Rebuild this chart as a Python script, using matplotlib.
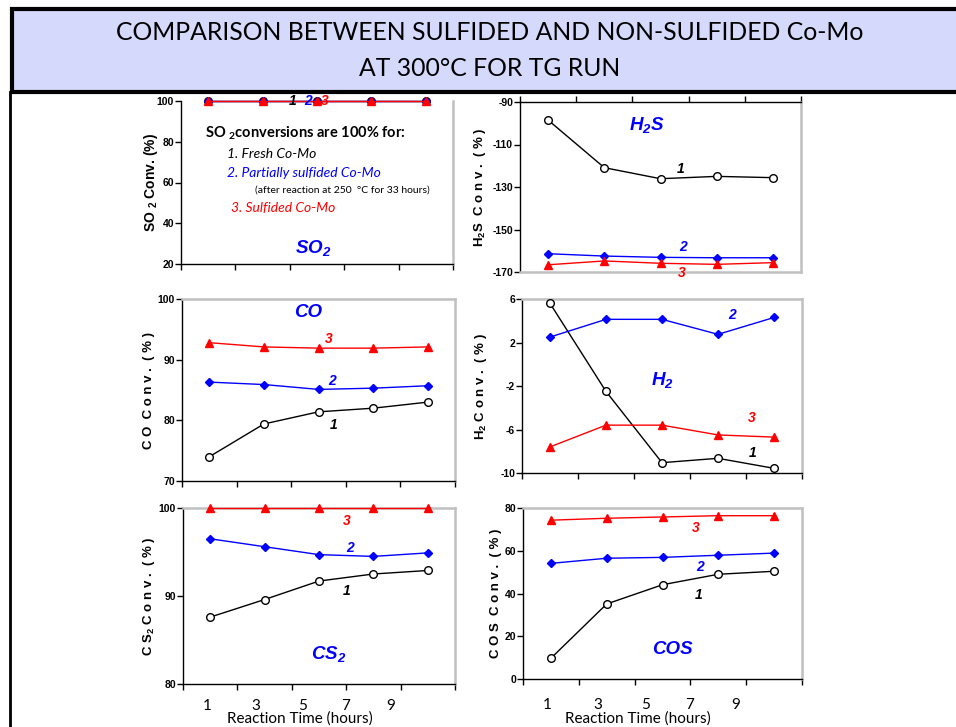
import matplotlib.pyplot as plt
from matplotlib.patches import Rectangle
from matplotlib.lines import Line2D

plt.rcParams['mathtext.default'] = 'regular'
plt.rcParams['axes.unicode_minus'] = False

# reaction-time points (evenly spaced categories on the charts)
positions = [0, 1, 2, 3, 4]
time_labels = ['1', '3', '5', '7', '9']

# 1 = fresh Co-Mo, 2 = partially sulfided, 3 = sulfided
so2_1 = [100, 100, 100, 100, 100]
so2_2 = [100, 100, 100, 100, 100]
so2_3 = [100, 100, 100, 100, 100]

h2s_1 = [-98.5, -120.9, -126.1, -125.0, -125.6]
h2s_2 = [-161.4, -162.5, -163.1, -163.3, -163.3]
h2s_3 = [-166.6, -164.8, -165.9, -166.4, -165.6]

co_1 = [74.0, 79.4, 81.4, 82.0, 83.0]
co_2 = [86.3, 85.9, 85.1, 85.3, 85.7]
co_3 = [92.8, 92.1, 91.9, 91.9, 92.1]

h2_1 = [5.6, -2.5, -9.05, -8.65, -9.57]
h2_2 = [2.5, 4.13, 4.13, 2.75, 4.3]
h2_3 = [-7.6, -5.6, -5.6, -6.5, -6.7]

cs2_1 = [87.6, 89.6, 91.7, 92.5, 92.9]
cs2_2 = [96.5, 95.6, 94.7, 94.5, 94.9]
cs2_3 = [100, 100, 100, 100, 100]

cos_1 = [9.7, 35.1, 44.1, 49.0, 50.4]
cos_2 = [54.1, 56.5, 56.9, 57.9, 58.9]
cos_3 = [74.3, 75.2, 75.8, 76.4, 76.4]

W, H = 956, 727
BLUE = '#0000ff'
RED = '#ff0000'
GREY = '#c0c0c0'
NUM_FONT = dict(family='Liberation Sans', fontweight='bold', fontstyle='italic', fontsize=10)
GAS_FONT = dict(family='Liberation Sans', fontweight='bold', fontstyle='italic', fontsize=13.5, color=BLUE)

fig = plt.figure(figsize=(W / 100, H / 100), dpi=100)

# title box
fig.patches.append(Rectangle((12 / W, 1 - 92 / H), 1.0, 83 / H, transform=fig.transFigure,
                             facecolor='#d5d9fb', edgecolor='black', lw=3, zorder=0))
fig.lines.append(Line2D([10 / W, 10 / W], [0, 1 - 92 / H], transform=fig.transFigure,
                        color='black', lw=2))
fig.text(490 / W, 1 - 33 / H, 'COMPARISON BETWEEN SULFIDED AND NON-SULFIDED Co-Mo',
         family='Lato', fontsize=17.8, ha='center', va='center')
fig.text(490 / W, 1 - 68 / H, 'AT 300\u00b0C FOR TG RUN',
         family='Lato', fontsize=17.8, ha='center', va='center')


def panel(box, ylim, yticks, ylabel, label_off, s1, s2, s3, top_axis=False, time_axis=None):
    l, t, r, b = box
    ax = fig.add_axes([l / W, 1 - b / H, (r - l) / W, (b - t) / H])
    ax.plot(positions, s1, color='black', lw=1, marker='o', ms=5.5, mfc='white',
            mec='black', mew=1, clip_on=False, zorder=3)
    ax.plot(positions, s2, color=BLUE, lw=1, marker='D', ms=4.5, mfc=BLUE,
            mec=BLUE, clip_on=False, zorder=4)
    ax.plot(positions, s3, color=RED, lw=1, marker='^', ms=6, mfc=RED,
            mec=RED, clip_on=False, zorder=5)
    ax.set_xlim(-0.5, 4.5)
    ax.set_ylim(*ylim)
    ax.set_yticks(yticks)
    for lab in ax.get_yticklabels():
        lab.set_fontfamily('Liberation Sans')
        lab.set_fontweight('bold')
    ax.tick_params(axis='y', direction='out', length=4, width=1, labelsize=7.5, pad=1)
    ax.set_xticks([-0.5, 0.5, 1.5, 2.5, 3.5, 4.5], minor=True)
    ax.tick_params(axis='x', which='minor', direction='out', length=4, width=1,
                   top=top_axis, bottom=not top_axis)
    axis_side = 'top' if top_axis else 'bottom'
    for side in ['top', 'bottom', 'right']:
        if side == axis_side:
            ax.spines[side].set_color('black')
            ax.spines[side].set_linewidth(1)
        else:
            ax.spines[side].set_color(GREY)
            ax.spines[side].set_linewidth(1.8)
    ax.spines['left'].set_linewidth(1)
    if time_axis is not None:
        ax.set_xticks([-0.06, 0.84, 1.70, 2.48, 3.32])
        ax.set_xticklabels(time_labels, family='Lato', fontsize=11)
        ax.tick_params(axis='x', which='major', length=0, pad=time_axis[0])
        ax.set_xlabel('Reaction Time (hours)', family='Lato', fontsize=11)
        ax.xaxis.set_label_coords(time_axis[1], -time_axis[2] / (b - t))
        ax.xaxis.label.set_va('center')
    else:
        ax.set_xticks([])
    ax.set_ylabel(ylabel, family='Liberation Sans', fontweight='bold', fontsize=9.5)
    ax.yaxis.set_label_coords(-label_off / (r - l), 0.5)
    return ax


# SO2
ax = panel((181, 101, 453, 264), (20, 100), [20, 40, 60, 80, 100],
           'SO $_2$ Conv. (%)', 21, so2_1, so2_2, so2_3)
ax.spines['top'].set_visible(False)
ax.yaxis.label.set_fontsize(10)
ax.text(1.56, 100, '1', ha='center', va='center', color='black', zorder=6, **NUM_FONT)
ax.text(1.83, 100, '2', ha='center', va='center', color=BLUE, zorder=6, **NUM_FONT)
ax.text(2.15, 100, '3', ha='center', va='center', color=RED, zorder=6, **NUM_FONT)
ax.text(-0.06, 84.2, 'SO $_2$conversions are 100% for:', family='Lato', fontweight='bold',
        fontsize=10.5, va='center')
ax.text(0.35, 73.9, '1. Fresh Co-Mo', family='Lato', fontstyle='italic', fontsize=10, va='center')
ax.text(0.35, 64.6, '2. Partially sulfided Co-Mo', family='Lato', fontstyle='italic',
        fontsize=10, va='center', color=BLUE)
ax.text(0.86, 56.3, '(after reaction at 250  \u00b0C for 33 hours)', family='Lato',
        fontsize=7.5, va='center')
ax.text(0.42, 47.4, '3. Sulfided Co-Mo', family='Lato', fontstyle='italic', fontsize=10,
        va='center', color=RED)
ax.text(1.93, 27.8, 'SO$_2$', ha='center', va='center', **GAS_FONT)

# H2S
ax = panel((520, 102, 801, 272), (-170, -90), [-170, -150, -130, -110, -90],
           'H$_2$S  C o n v .  ( % )', 32, h2s_1, h2s_2, h2s_3, top_axis=True)
ax.text(1.76, -100.8, 'H$_2$S', ha='center', va='center', **GAS_FONT)
ax.text(2.36, -121.5, '1', ha='center', va='center', color='black', **NUM_FONT)
ax.text(2.40, -158.2, '2', ha='center', va='center', color=BLUE, **NUM_FONT)
ax.text(2.38, -170.5, '3', ha='center', va='center', color=RED, clip_on=False, **NUM_FONT)

# CO
ax = panel((182, 299, 455, 481), (70, 100), [70, 80, 90, 100],
           'C O  C o n v .  ( % )', 27, co_1, co_2, co_3)
ax.text(1.81, 97.7, 'CO', ha='center', va='center', **GAS_FONT)
ax.text(2.19, 93.4, '3', ha='center', va='center', color=RED, **NUM_FONT)
ax.text(2.25, 86.5, '2', ha='center', va='center', color=BLUE, **NUM_FONT)
ax.text(2.27, 79.2, '1', ha='center', va='center', color='black', **NUM_FONT)

# H2
ax = panel((522, 299, 802, 473), (-10, 6), [-10, -6, -2, 2, 6],
           'H$_2$ C o n v .  ( % )', 33, h2_1, h2_2, h2_3)
ax.text(2.0, -1.45, 'H$_2$', ha='center', va='center', **GAS_FONT)
ax.text(3.25, 4.53, '2', ha='center', va='center', color=BLUE, **NUM_FONT)
ax.text(3.61, -4.94, '3', ha='center', va='center', color=RED, **NUM_FONT)
ax.text(3.61, -8.16, '1', ha='center', va='center', color='black', **NUM_FONT)

# CS2
ax = panel((183, 508, 455, 684), (80, 100), [80, 90, 100],
           'C S$_2$ C o n v .  ( % )', 26, cs2_1, cs2_2, cs2_3, time_axis=(11, 0.43, 35))
ax.text(2.17, 83.4, 'CS$_2$', ha='center', va='center', **GAS_FONT)
ax.text(2.51, 98.5, '3', ha='center', va='center', color=RED, **NUM_FONT)
ax.text(2.57, 95.45, '2', ha='center', va='center', color=BLUE, **NUM_FONT)
ax.text(2.50, 90.6, '1', ha='center', va='center', color='black', **NUM_FONT)

# COS
ax = panel((523, 508, 802, 679), (0, 80), [0, 20, 40, 60, 80],
           'C O S  C o n v .  ( % )', 21, cos_1, cos_2, cos_3, time_axis=(13.5, 0.41, 40))
ax.text(2.17, 13.6, 'COS', ha='center', va='center', **GAS_FONT)
ax.text(2.60, 70.6, '3', ha='center', va='center', color=RED, **NUM_FONT)
ax.text(2.67, 52.4, '2', ha='center', va='center', color=BLUE, **NUM_FONT)
ax.text(2.65, 39.3, '1', ha='center', va='center', color='black', **NUM_FONT)

fig.savefig('out.png', dpi=100)
